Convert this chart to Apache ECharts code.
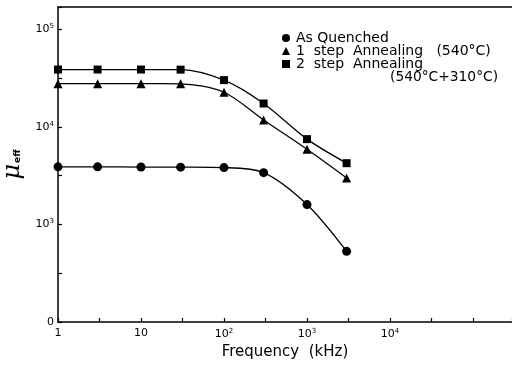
<!DOCTYPE html>
<html>
<head>
<meta charset="utf-8">
<script src="https://cdn.jsdelivr.net/npm/echarts@6/dist/echarts.min.js"></script>
<style>
  html, body { margin: 0; background: #fff; }
  #chart { width: 512px; height: 372px; }
</style>
</head>
<body>
<div id="chart"></div>
<script>
// frequency in kHz, permeability values
const frequency = [1, 3, 10, 30, 100, 300, 1000, 3000];
const asQuenched = [3900, 3900, 3880, 3870, 3830, 3400, 1600, 530];
const oneStep = [27800, 27800, 27800, 27700, 22700, 11800, 5900, 3000];
const twoStep = [38800, 38800, 38800, 38700, 30200, 17400, 7500, 4250];

const seriesNames = ['As Quenched', '1  step  Annealing   (540°C)', '2  step  Annealing'];
const seriesSymbols = ['circle', 'triangle', 'rect'];

// labels by decade exponent
const xTickLabels = ['1', '10', '10{s|2}', '10{s|3}', '10{s|4}', ''];
const yTickLabels = { 2: '0', 3: '10{s|3}', 4: '10{s|4}', 5: '10{s|5}' };

const font = 'DejaVu Sans';
const xMaxExp = 5.47;
const yMinExp = 2;
const yMaxExp = 5.23;

const chart = echarts.init(document.getElementById('chart'));

const supRich = {
  b: { fontSize: 11, fontFamily: font, color: '#000' },
  s: { fontSize: 7, fontFamily: font, color: '#000', padding: [0, 0, 6, 0] }
};

// only label exact powers of ten, not the axis ends
const decadeLabel = (labels) => (v) => {
  const e = Math.log10(v);
  const r = Math.round(e);
  if (Math.abs(e - r) > 1e-6) return '';
  return labels[r] || '';
};

const makeSeries = (name, values, symbol, size) => ({
  name: name,
  type: 'line',
  data: frequency.map((f, i) => [f, values[i]]),
  smooth: 0.3,
  symbol: symbol,
  symbolSize: size,
  clip: false,
  lineStyle: { color: '#000', width: 1.3 },
  itemStyle: { color: '#000' }
});

const option = {
  backgroundColor: '#fff',
  animation: false,
  grid: { left: 58, right: 0, top: 7, bottom: 50, outerBoundsMode: 'none', containLabel: false },
  legend: {
    orient: 'vertical',
    left: 282,
    top: 31,
    padding: 0,
    itemWidth: 8,
    itemHeight: 8,
    itemGap: -1,
    data: seriesNames.map((n, i) => ({ name: n, icon: seriesSymbols[i] })),
    textStyle: { fontFamily: font, fontSize: 14, color: '#000', padding: [0, 0, 0, 1] },
    itemStyle: { color: '#000' }
  },
  graphic: [{
    type: 'text',
    left: 390,
    top: 70,
    style: { text: '(540°C+310°C)', font: '13.8px "DejaVu Sans"', fill: '#000' }
  }],
  xAxis: [{
    type: 'log',
    min: 1,
    max: Math.pow(10, xMaxExp),
    position: 'bottom',
    name: 'Frequency  (kHz)',
    nameLocation: 'middle',
    nameGap: 23,
    nameTextStyle: { fontFamily: font, fontSize: 15, color: '#000' },
    axisLine: { lineStyle: { color: '#000', width: 1.5 } },
    axisTick: { show: false },
    splitLine: { show: false },
    axisLabel: {
      margin: 6,
      formatter: decadeLabel(xTickLabels),
      rich: supRich,
      fontFamily: font, fontSize: 11, color: '#000'
    }
  }, {
    // half-decade tick marks
    type: 'value',
    min: 0,
    max: xMaxExp,
    interval: 0.5,
    position: 'bottom',
    axisLine: { show: false },
    axisTick: { show: true, inside: true, length: 4, lineStyle: { color: '#000', width: 1.2 } },
    axisLabel: { show: false },
    splitLine: { show: false }
  }, {
    // top frame line
    type: 'log',
    min: 1,
    max: Math.pow(10, xMaxExp),
    position: 'top',
    axisLine: { lineStyle: { color: '#000', width: 1.5 } },
    axisTick: { show: false },
    axisLabel: { show: false },
    splitLine: { show: false }
  }],
  yAxis: [{
    type: 'log',
    min: Math.pow(10, yMinExp),
    max: Math.pow(10, yMaxExp),
    position: 'left',
    name: '{m|μ}{e|eff}',
    nameLocation: 'middle',
    nameRotate: 90,
    nameGap: 18,
    nameTextStyle: {
      rich: {
        m: { fontSize: 24, fontStyle: 'italic', fontFamily: 'DejaVu Serif', color: '#000' },
        e: { fontSize: 9, fontWeight: 'bold', fontFamily: font, color: '#000', padding: [10, 0, 0, 1] }
      }
    },
    axisLine: { lineStyle: { color: '#000', width: 1.5 } },
    axisTick: { show: false },
    splitLine: { show: false },
    axisLabel: {
      margin: 4,
      formatter: decadeLabel(yTickLabels),
      rich: supRich,
      fontFamily: font, fontSize: 11, color: '#000'
    }
  }, {
    type: 'value',
    min: yMinExp,
    max: yMaxExp,
    interval: 0.5,
    position: 'left',
    axisLine: { show: false },
    axisTick: { show: true, inside: true, length: 4, lineStyle: { color: '#000', width: 1.2 } },
    axisLabel: { show: false },
    splitLine: { show: false }
  }],
  series: [
    makeSeries(seriesNames[0], asQuenched, 'circle', 9),
    makeSeries(seriesNames[1], oneStep, 'triangle', 9),
    makeSeries(seriesNames[2], twoStep, 'rect', 8)
  ]
};

chart.setOption(option);
</script>
</body>
</html>
